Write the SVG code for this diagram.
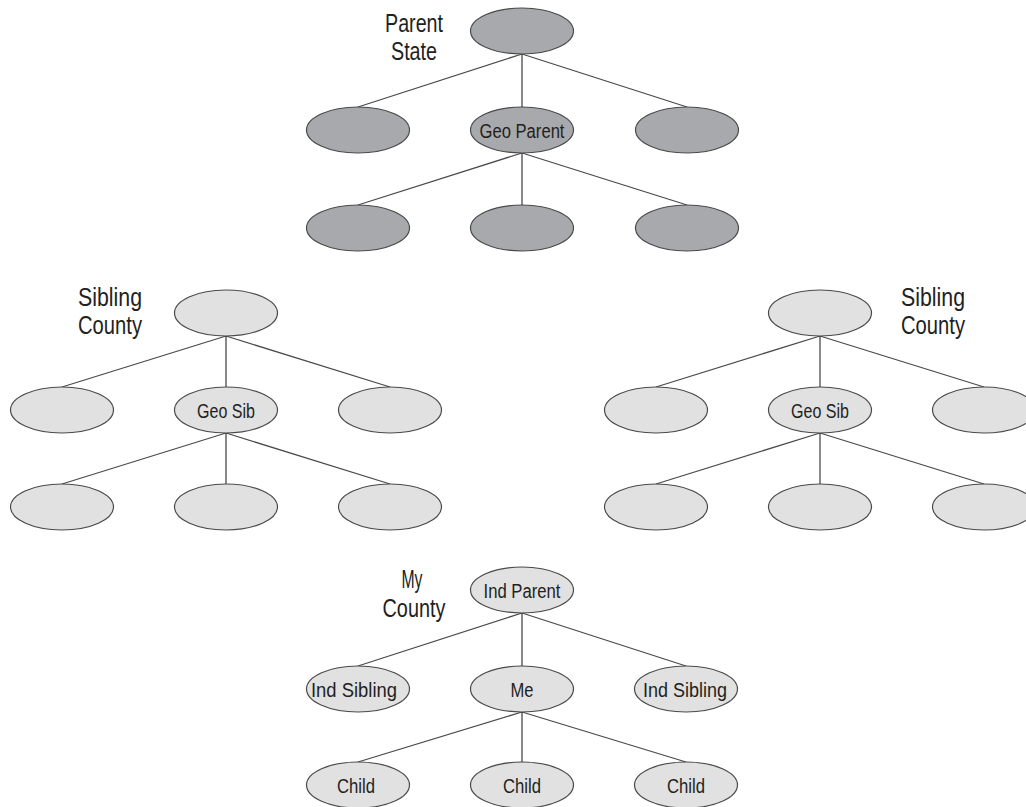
<svg xmlns="http://www.w3.org/2000/svg" width="1026" height="807" viewBox="0 0 1026 807">
<style>
.dk{fill:#a8a9ac;stroke:#4a4a4a;stroke-width:1.2}
.lt{fill:#e1e1e2;stroke:#4a4a4a;stroke-width:1.2}
.edge{stroke:#4a4a4a;stroke-width:1.3;fill:none}
text{font-family:"Liberation Sans",Arial,sans-serif;fill:#231f20;text-anchor:middle}
.nl{font-size:20px}
.gl{font-size:25px}
</style>
<rect width="1026" height="807" fill="#ffffff"/>
<g id="connectors">
<path class="edge" d="M522,54L358,107M522,54L522,107M522,54L687,107M522,153L358,205M522,153L522,205M522,153L687,205"/>
<path class="edge" d="M226,336L62,387M226,336L226,387M226,336L390,387M226,433L62,484M226,433L226,484M226,433L390,484"/>
<path class="edge" d="M820,336L656,387M820,336L820,387M820,336L984,387M820,433L656,484M820,433L820,484M820,433L984,484"/>
<path class="edge" d="M522,613L358,666M522,613L522,666M522,613L686,666M522,712L358,762M522,712L522,762M522,712L686,762"/>
</g>
<g id="labels">
<text class="gl" x="414" y="32" textLength="58" lengthAdjust="spacingAndGlyphs">Parent</text>
<text class="gl" x="414" y="60" textLength="46" lengthAdjust="spacingAndGlyphs">State</text>
<text class="gl" x="110" y="306" textLength="64" lengthAdjust="spacingAndGlyphs">Sibling</text>
<text class="gl" x="110" y="334" textLength="64" lengthAdjust="spacingAndGlyphs">County</text>
<text class="gl" x="933" y="306" textLength="64" lengthAdjust="spacingAndGlyphs">Sibling</text>
<text class="gl" x="933" y="334" textLength="64" lengthAdjust="spacingAndGlyphs">County</text>
<text class="gl" x="412" y="588" textLength="21" lengthAdjust="spacingAndGlyphs">My</text>
<text class="gl" x="414" y="617" textLength="63" lengthAdjust="spacingAndGlyphs">County</text>
</g>
<g id="t1-root"><ellipse class="dk" cx="522" cy="31" rx="51.5" ry="23"/></g>
<g id="t1-a"><ellipse class="dk" cx="358" cy="130" rx="51.5" ry="23"/></g>
<g id="t1-geo-parent"><ellipse class="dk" cx="522" cy="130" rx="51.5" ry="23"/><text class="nl" x="522" y="137.5" textLength="85" lengthAdjust="spacingAndGlyphs">Geo Parent</text></g>
<g id="t1-c"><ellipse class="dk" cx="687" cy="130" rx="51.5" ry="23"/></g>
<g id="t1-d"><ellipse class="dk" cx="358" cy="228" rx="51.5" ry="23"/></g>
<g id="t1-e"><ellipse class="dk" cx="522" cy="228" rx="51.5" ry="23"/></g>
<g id="t1-f"><ellipse class="dk" cx="687" cy="228" rx="51.5" ry="23"/></g>
<g id="t2-root"><ellipse class="lt" cx="226" cy="313" rx="51.5" ry="23"/></g>
<g id="t2-a"><ellipse class="lt" cx="62" cy="410" rx="51.5" ry="23"/></g>
<g id="t2-geo-sib"><ellipse class="lt" cx="226" cy="410" rx="51.5" ry="23"/><text class="nl" x="226" y="417.5" textLength="58" lengthAdjust="spacingAndGlyphs">Geo Sib</text></g>
<g id="t2-c"><ellipse class="lt" cx="390" cy="410" rx="51.5" ry="23"/></g>
<g id="t2-d"><ellipse class="lt" cx="62" cy="507" rx="51.5" ry="23"/></g>
<g id="t2-e"><ellipse class="lt" cx="226" cy="507" rx="51.5" ry="23"/></g>
<g id="t2-f"><ellipse class="lt" cx="390" cy="507" rx="51.5" ry="23"/></g>
<g id="t3-root"><ellipse class="lt" cx="820" cy="313" rx="51.5" ry="23"/></g>
<g id="t3-a"><ellipse class="lt" cx="656" cy="410" rx="51.5" ry="23"/></g>
<g id="t3-geo-sib"><ellipse class="lt" cx="820" cy="410" rx="51.5" ry="23"/><text class="nl" x="820" y="417.5" textLength="58" lengthAdjust="spacingAndGlyphs">Geo Sib</text></g>
<g id="t3-c"><ellipse class="lt" cx="984" cy="410" rx="51.5" ry="23"/></g>
<g id="t3-d"><ellipse class="lt" cx="656" cy="507" rx="51.5" ry="23"/></g>
<g id="t3-e"><ellipse class="lt" cx="820" cy="507" rx="51.5" ry="23"/></g>
<g id="t3-f"><ellipse class="lt" cx="984" cy="507" rx="51.5" ry="23"/></g>
<g id="t4-ind-parent"><ellipse class="lt" cx="522" cy="590" rx="51.5" ry="23"/><text class="nl" x="522" y="597.5" textLength="77" lengthAdjust="spacingAndGlyphs">Ind Parent</text></g>
<g id="t4-ind-sibling-l"><ellipse class="lt" cx="358" cy="689" rx="51.5" ry="23"/><text class="nl" x="354" y="696.5" textLength="86" lengthAdjust="spacingAndGlyphs">Ind Sibling</text></g>
<g id="t4-me"><ellipse class="lt" cx="522" cy="689" rx="51.5" ry="23"/><text class="nl" x="522" y="696.5" textLength="23" lengthAdjust="spacingAndGlyphs">Me</text></g>
<g id="t4-ind-sibling-r"><ellipse class="lt" cx="686" cy="689" rx="51.5" ry="23"/><text class="nl" x="685" y="696.5" textLength="84" lengthAdjust="spacingAndGlyphs">Ind Sibling</text></g>
<g id="t4-child-l"><ellipse class="lt" cx="358" cy="785" rx="51.5" ry="23"/><text class="nl" x="356" y="792.5" textLength="38" lengthAdjust="spacingAndGlyphs">Child</text></g>
<g id="t4-child-m"><ellipse class="lt" cx="522" cy="785" rx="51.5" ry="23"/><text class="nl" x="522" y="792.5" textLength="38" lengthAdjust="spacingAndGlyphs">Child</text></g>
<g id="t4-child-r"><ellipse class="lt" cx="686" cy="785" rx="51.5" ry="23"/><text class="nl" x="686" y="792.5" textLength="38" lengthAdjust="spacingAndGlyphs">Child</text></g>
</svg>
